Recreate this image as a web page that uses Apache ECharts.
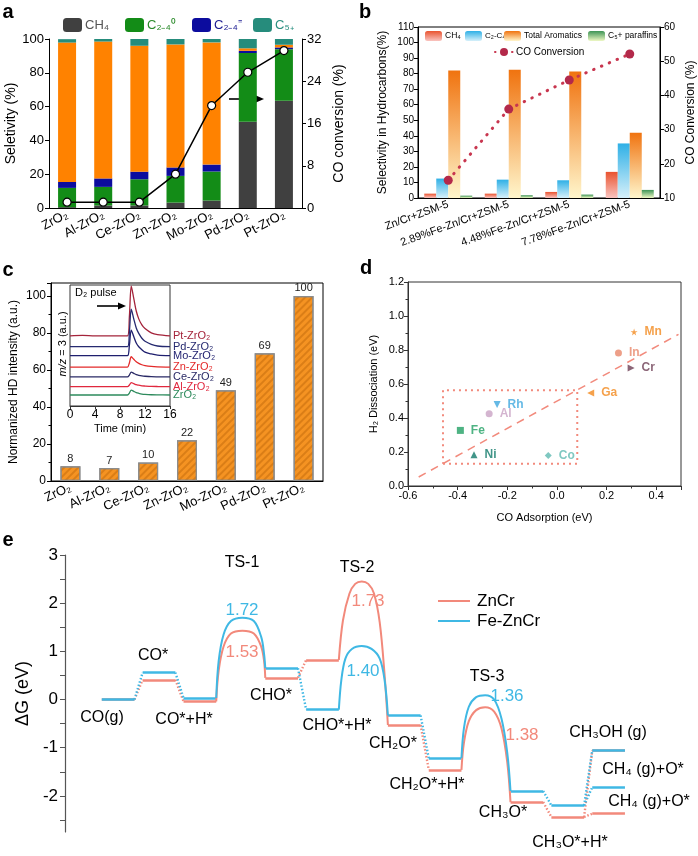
<!DOCTYPE html>
<html><head><meta charset="utf-8">
<script src="https://cdn.jsdelivr.net/npm/echarts@6/dist/echarts.min.js"></script>
<style>html,body{margin:0;padding:0;background:#fff}#c{width:698px;height:856px}</style>
</head><body><div id="c"></div><script>
// ---------- Panel a ----------
const catsA = ['ZrO₂','Al-ZrO₂','Ce-ZrO₂','Zn-ZrO₂','Mo-ZrO₂','Pd-ZrO₂','Pt-ZrO₂'];
const aCH4 = [0.5,1.5,1.5,3.2,4.4,51,63.4];
const aC24sat = [11.4,11,15.5,15.8,17.2,40.7,30.6];
const aC24ole = [3.5,5,4.5,5,4.1,1.3,1];
const aArom = [82.5,81,74.5,72.8,72.3,1.5,1.6];
const aC5 = [2,1.5,4,3.2,2,5.5,3.4];
const aConv = [1.1,1.1,1.1,6.4,19.4,25.7,29.8];
// ---------- Panel b ----------
const catsB = ['Zn/Cr+ZSM-5','2.89%Fe-Zn/Cr+ZSM-5','4.48%Fe-Zn/Cr+ZSM-5','7.78%Fe-Zn/Cr+ZSM-5'];
const bCH4 = [2.8,2.8,3.9,16.8];
const bC2C4 = [12.5,11.8,11.4,35.1];
const bArom = [82,82.5,81.4,42];
const bC5 = [1.5,1.8,2.2,5.2];
const bConv = [15.2,36,44.5,52.1];
// ---------- Panel c ----------
const cHD = [8,7,10,22,49,69,100];
const insetTime = [0,2,4,6,8,9.2,9.5,9.8,10.2,10.6,11,11.5,12,13,14,16];
const insetNames = ['Pt-ZrO₂','Pd-ZrO₂','Mo-ZrO₂','Zn-ZrO₂','Ce-ZrO₂','Al-ZrO₂','ZrO₂'];
const insetPt = [58,58.3,58,58,58,58,74,99,89,78.5,72,67,64,60.5,59,58];
const insetPd = [49,49,49,49,49,49,61,80,72,64.5,60,56,53.5,51,49.6,49];
const insetMo = [41.6,41.6,41.6,41.6,41.6,41.6,50,62.6,57.4,52,49,46.5,44.5,43,42,41.6];
const insetZn = [32.2,32.2,32.2,32.2,32.2,32.2,35.6,40.7,38.6,36.5,35.2,34.1,33.4,32.7,32.4,32.2];
const insetCe = [24,24,24,24,24,24,25.6,28,27,26,25.4,24.9,24.6,24.2,24.1,24];
const insetAl = [16,16,16,16,16,16,17.3,19.3,18.5,17.6,17.2,16.7,16.5,16.2,16.1,16];
const insetZr = [9.1,9.1,9.1,9.1,9.1,9.1,10.7,13.1,12.1,11.1,10.5,9.9,9.6,9.3,9.2,9.1];
// ---------- Panel d ----------
const dNames = ['Mn','In','Cr','Ga','Rh','Al','Fe','Ni','Co'];
const dCOads = [0.311,0.248,0.299,0.136,-0.241,-0.273,-0.389,-0.334,-0.035];
const dH2dis = [0.906,0.782,0.694,0.547,0.48,0.425,0.327,0.184,0.18];
const dFitLine = [[-0.557,0.053],[0.49,0.892]];
const dBox = [[-0.459,0.131],[0.082,0.131],[0.082,0.563],[-0.459,0.563],[-0.459,0.131]];
// ---------- Panel e ----------
const eStates = ['CO(g)','CO*','CO*+H*','CHO*','CHO*+H*','CH₂O*','CH₂O*+H*','CH₃O*','CH₃O*+H*'];
const eStatePos = [0,5,10,20,25,35,40,50,55];
const eFinalPos = 60;
const ePlateau = 4;
const eZnCr = [0,0.41,-0.04,0.45,0.82,-0.53,-1.46,-2.13,-2.44];
const eFe = [0,0.56,0.03,0.65,-0.21,-0.33,-1.22,-1.90,-2.20];
const eZnCrFinal = [-1.06,-2.37];
const eFeFinal = [-1.06,-1.82];
const eZnCrTS = [
  [[14,-0.04],[14.3,0.6],[14.9,1.1],[15.8,1.37],[17.2,1.43],[18.6,1.37],[19.5,1.1],[19.85,0.8],[20,0.45]],
  [[29,0.82],[29.5,1.64],[30.3,2.2],[31.0,2.4],[31.8,2.45],[32.6,2.4],[33.3,2.2],[34.0,1.6],[34.6,0.5],[35,-0.53]],
  [[44,-1.46],[44.3,-0.9],[44.9,-0.45],[45.8,-0.22],[46.9,-0.16],[48.0,-0.25],[48.9,-0.6],[49.6,-1.3],[50,-2.13]]
];
const eFeTS = [
  [[14,0.03],[14.3,0.8],[14.9,1.35],[15.8,1.63],[17.2,1.70],[18.6,1.63],[19.5,1.3],[19.85,0.95],[20,0.65]],
  [[29,-0.21],[29.3,0.4],[29.8,0.85],[30.6,1.05],[31.8,1.11],[33.0,1.05],[34.0,0.85],[34.6,0.4],[35,-0.33]],
  [[44,-1.22],[44.3,-0.6],[44.9,-0.15],[45.8,0.05],[46.9,0.09],[48.0,0.0],[48.9,-0.4],[49.6,-1.1],[50,-1.90]]
];
const eLinks = [[0,1],[1,2],[3,4],[5,6],[7,8]];

// ---------- build ----------
const F = '"Liberation Sans", Arial, sans-serif';
const K = '#000';
const cZn = '#f2897b', cFe = '#3fb8e4';
const axLine = {show:true, lineStyle:{color:K, width:1}};

function grad(top, bottom){return {type:'linear',x:0,y:0,x2:0,y2:1,colorStops:[{offset:0,color:top},{offset:1,color:bottom}]};}

function plateaus(levels, finals){
  const s = levels.map((e,i)=>({coords:[[eStatePos[i],e],[eStatePos[i]+ePlateau,e]]}));
  finals.forEach(e=>s.push({coords:[[eFinalPos,e],[eFinalPos+ePlateau,e]]}));
  return s;
}
function links(levels, finals){
  const s = eLinks.map(([a,b])=>({coords:[[eStatePos[a]+ePlateau,levels[a]],[eStatePos[b],levels[b]]]}));
  const last = levels.length-1;
  finals.forEach(e=>s.push({coords:[[eStatePos[last]+ePlateau,levels[last]],[eFinalPos,e]]}));
  return s;
}

const series = [];
// panel a
[['CH₄',aCH4,'#404040'],['C₂₋₄⁰',aC24sat,'#138c17'],['C₂₋₄⁼',aC24ole,'#0c0c9e'],['Aromatics',aArom,'#ff8200'],['C₅₊',aC5,'#268c7c']].forEach(([n,d,c])=>{
  series.push({name:n,type:'bar',xAxisIndex:0,yAxisIndex:0,stack:'a',data:d,barWidth:18,itemStyle:{color:c},silent:true});
});
series.push({name:'convA',type:'line',xAxisIndex:0,yAxisIndex:1,data:aConv,symbol:'circle',symbolSize:8,
  lineStyle:{color:K,width:1.5},itemStyle:{color:'#fff',borderColor:K,borderWidth:1.2},z:5});
// panel b
[['CH₄ ',bCH4,grad('#e9532f','#f9c4c0')],['C₂-C₄',bC2C4,grad('#2fb0e6','#d6f0fa')],['Total Aromatics',bArom,grad('#f0730f','#fff6cc')],['C₅+ paraffins',bC5,grad('#3d9456','#eef8c4')]].forEach(([n,d,c])=>{
  series.push({name:n,type:'bar',xAxisIndex:1,yAxisIndex:2,data:d,barWidth:12,barGap:'0%',itemStyle:{color:c},silent:true});
});
series.push({name:'CO Conversion',type:'line',xAxisIndex:1,yAxisIndex:3,data:bConv,symbol:'circle',symbolSize:9,
  lineStyle:{color:'#c8364f',width:3,type:[0.5,8],cap:'round'},itemStyle:{color:'#b3294a'},z:5});
// panel c
series.push({name:'HD',type:'bar',xAxisIndex:2,yAxisIndex:4,data:cHD,barWidth:20,
  itemStyle:{color:'#f59322',borderColor:'#8c8c8c',borderWidth:1.2,
    decal:{symbol:'rect',symbolSize:1,dashArrayX:[1,0],dashArrayY:[1.5,2.5],rotation:-Math.PI/4,color:'rgba(170,85,0,0.35)'}},
  label:{show:true,position:'top',distance:2,fontSize:11,color:'#222',fontFamily:F},silent:true});
const insetSets=[insetPt,insetPd,insetMo,insetZn,insetCe,insetAl,insetZr];
const insetColors=['#a4243b','#262a70','#1f1f6e','#e32a2a','#2a2a66','#e0283e','#2d8a5c'];
insetSets.forEach((d,i)=>{
  series.push({name:insetNames[i],type:'line',xAxisIndex:3,yAxisIndex:5,data:insetTime.map((t,j)=>[t,d[j]]),
    showSymbol:false,smooth:0.3,lineStyle:{color:insetColors[i],width:1.3},
    endLabel:{show:true,formatter:insetNames[i],color:insetColors[i],fontSize:11,fontFamily:F,distance:3},silent:true});
});
// panel d
const dColors=['#f28a1e','#e8876a','#6e3e55','#f28a1e','#3fa8de','#c9a3c4','#22a064','#117a6a','#5fbab2'];
const dSym=['path://M50,0 L61,35 L98,35 L68,57 L79,91 L50,70 L21,91 L32,57 L2,35 L39,35 Z','circle','triangle','triangle','triangle','circle','rect','triangle','diamond'];
const dRot=[0,0,-90,90,180,0,0,0,0];
series.push({name:'d',type:'line',xAxisIndex:4,yAxisIndex:6,data:dFitLine,showSymbol:false,lineStyle:{color:'#f28a7c',width:1.5,type:[8,6]},silent:true});
series.push({name:'dbox',type:'line',xAxisIndex:4,yAxisIndex:6,data:dBox,showSymbol:false,lineStyle:{color:'#f28a7c',width:2,type:[2,4]},silent:true});
series.push({name:'dpts',type:'scatter',xAxisIndex:4,yAxisIndex:6,symbolSize:7,z:5,
  data:dNames.map((n,i)=>({value:[dCOads[i],dH2dis[i]],symbol:dSym[i],symbolRotate:dRot[i],
    itemStyle:{color:dColors[i]},label:{show:true,position:'right',distance:7,formatter:n,color:dColors[i],fontWeight:'bold',fontSize:12,fontFamily:F}})),silent:true});
// panel e
[[eZnCr,eZnCrFinal,eZnCrTS,cZn],[eFe,eFeFinal,eFeTS,cFe]].forEach(([lv,fin,ts,c])=>{
  series.push({type:'lines',coordinateSystem:'cartesian2d',xAxisIndex:5,yAxisIndex:7,data:plateaus(lv,fin),lineStyle:{color:c,width:2.6,opacity:1},silent:true});
  series.push({type:'lines',coordinateSystem:'cartesian2d',xAxisIndex:5,yAxisIndex:7,data:links(lv,fin),lineStyle:{color:c,width:2.4,opacity:1,type:[1.5,2]},silent:true});
  ts.forEach(arc=>series.push({type:'line',xAxisIndex:5,yAxisIndex:7,data:arc,showSymbol:false,smooth:0.35,lineStyle:{color:c,width:2},silent:true}));
});

function txt(text,x,y,size,color,extra){
  return Object.assign({type:'text',x:x,y:y,silent:true,style:Object.assign({text:text,fontSize:size,fontFamily:F,fill:color||K,align:'center',verticalAlign:'middle',textAlign:'center',textVerticalAlign:'middle'},(extra&&extra.style)||{})},extra&&extra.rotation!==undefined?{rotation:extra.rotation}:{});
}
function arrow(x1,x2,y){
  return {type:'group',silent:true,children:[
    {type:'line',shape:{x1:x1,y1:y,x2:x2-6,y2:y},style:{stroke:K,lineWidth:1.6}},
    {type:'polygon',shape:{points:[[x2,y],[x2-8,y-3.5],[x2-8,y+3.5]]},style:{fill:K}}]};
}

const graphic = [
  txt('a',8,12,20,K,{style:{fontWeight:'bold'}}),
  txt('b',365,12,20,K,{style:{fontWeight:'bold'}}),
  txt('c',8,270,20,K,{style:{fontWeight:'bold'}}),
  txt('d',366,268,20,K,{style:{fontWeight:'bold'}}),
  txt('e',8,540,20,K,{style:{fontWeight:'bold'}}),
  txt('Aromatics',74,120,14,'#fff',{rotation:Math.PI/2}),
  arrow(229,264,99),
  // inset
  txt('D₂ pulse',75,293,11,K,{style:{align:'left',textAlign:'left'}}),
  arrow(97,126,306),
  {type:'text',x:63,y:344,rotation:Math.PI/2,silent:true,style:{text:'{i|m/z} = 3 (a.u.)',fontSize:11,fontFamily:F,fill:K,align:'center',verticalAlign:'middle',textAlign:'center',textVerticalAlign:'middle',rich:{i:{fontStyle:'italic',fontSize:11,fontFamily:F}}}},
  // panel e annotations
  txt('TS-1',242,563,16), txt('TS-2',357,568,16), txt('TS-3',487,677,16),
  txt('1.72',242,610,17,cFe), txt('1.53',242,652,17,cZn), txt('1.73',368,601,17,cZn),
  txt('1.40',363,671,17,cFe), txt('1.36',507,696,17,cFe), txt('1.38',522,735,17,cZn),
  txt('CO(g)',102,718,16), txt('CO*',153,656,16), txt('CO*+H*',184,720,16), txt('CHO*',271,696,16),
  txt('CHO*+H*',337,726,16), txt('CH₂O*',393,744,16), txt('CH₂O*+H*',427,785,16), txt('CH₃O*',503,813,16),
  txt('CH₃O*+H*',570,843,16), txt('CH₃OH (g)',608,733,16), txt('CH₄ (g)+O*',643,770,16), txt('CH₄ (g)+O*',649,802,16),
  {type:'line',shape:{x1:438,y1:601,x2:470,y2:601},style:{stroke:cZn,lineWidth:2},silent:true},
  {type:'line',shape:{x1:438,y1:621,x2:470,y2:621},style:{stroke:cFe,lineWidth:2},silent:true},
  txt('ZnCr',477,601,17,K,{style:{align:'left',textAlign:'left'}}),
  txt('Fe-ZnCr',477,621,17,K,{style:{align:'left',textAlign:'left'}})
];

function leg(name,left,top,color,size,w,h){
  return {data:[name],left:left,top:top,padding:0,itemWidth:w,itemHeight:h,itemGap:0,selectedMode:false,
    textStyle:{color:color,fontSize:size,fontFamily:F,padding:[0,0,0,-2]}};
}

const option = {
  animation:false,
  backgroundColor:'#fff',
  textStyle:{fontFamily:F},
  grid:[
    {left:49,top:39,width:253,height:169},
    {left:418,top:27,width:242,height:171,show:true,borderColor:K,borderWidth:1,backgroundColor:'transparent'},
    {left:51,top:283,width:272,height:198,show:true,borderColor:K,borderWidth:1,backgroundColor:'transparent'},
    {left:70,top:285,width:100,height:121,show:true,borderColor:'#333',borderWidth:1,backgroundColor:'#fff'},
    {left:408,top:282,width:273,height:204,show:true,borderColor:'#333',borderWidth:1,backgroundColor:'transparent'},
    {left:65,top:555,width:609,height:277}
  ],
  xAxis:[
    {type:'category',gridIndex:0,data:catsA,axisLine:axLine,axisTick:{alignWithLabel:true,length:4,lineStyle:{color:K}},
      axisLabel:{rotate:28,fontSize:13,color:K,margin:6,interval:0}},
    {type:'category',gridIndex:1,data:catsB,axisLine:axLine,axisTick:{alignWithLabel:true,length:4,lineStyle:{color:K}},
      axisLabel:{rotate:20,fontSize:11,color:K,margin:6,interval:0}},
    {type:'category',gridIndex:2,data:catsA,axisLine:axLine,axisTick:{alignWithLabel:true,length:4,lineStyle:{color:K}},
      axisLabel:{rotate:25,fontSize:13,color:K,margin:6,interval:0}},
    {type:'value',gridIndex:3,min:0,max:16,interval:4,axisLine:{show:true,lineStyle:{color:'#333'}},axisTick:{length:3,lineStyle:{color:'#333'}},
      axisLabel:{fontSize:12,color:K,margin:3},splitLine:{show:false},
      name:'Time (min)',nameLocation:'middle',nameGap:17,nameTextStyle:{fontSize:11,color:K}},
    {type:'value',gridIndex:4,min:-0.6,max:0.5,interval:0.2,axisLine:{show:true,onZero:false,lineStyle:{color:'#333'}},
      axisTick:{length:4,lineStyle:{color:'#333'}},minorTick:{show:true,splitNumber:2,length:2.5,lineStyle:{color:'#333'}},
      axisLabel:{fontSize:11,color:K,margin:4,showMaxLabel:false,formatter:v=>v.toFixed(1)},splitLine:{show:false},
      name:'CO Adsorption (eV)',nameLocation:'middle',nameGap:26,nameTextStyle:{fontSize:11,color:K}},
    {type:'value',gridIndex:5,min:-4.5,max:70,show:false}
  ],
  yAxis:[
    {type:'value',gridIndex:0,min:0,max:100,interval:20,axisLine:axLine,axisTick:{show:true,length:4,lineStyle:{color:K}},
      axisLabel:{fontSize:13,color:K,margin:5},splitLine:{show:false},
      name:'Seletivity (%)',nameLocation:'middle',nameGap:31,nameTextStyle:{fontSize:14,color:K}},
    {type:'value',gridIndex:0,position:'right',min:0,max:32,interval:8,axisLine:axLine,axisTick:{show:true,length:4,lineStyle:{color:K}},
      axisLabel:{fontSize:13,color:K,margin:5},splitLine:{show:false},
      name:'CO conversion (%)',nameLocation:'middle',nameGap:30,nameRotate:90,nameTextStyle:{fontSize:14,color:K}},
    {type:'value',gridIndex:1,min:0,max:110,interval:10,axisLine:axLine,axisTick:{show:true,length:4,lineStyle:{color:K}},
      axisLabel:{fontSize:10,color:K,margin:4},splitLine:{show:false},
      name:'Selectivity in Hydrocarbons(%)',nameLocation:'middle',nameGap:29,nameTextStyle:{fontSize:12,color:K}},
    {type:'value',gridIndex:1,position:'right',min:10,max:60,interval:10,axisLine:axLine,axisTick:{show:true,length:4,lineStyle:{color:K}},
      axisLabel:{fontSize:10,color:K,margin:4},splitLine:{show:false},
      name:'CO Conversion (%)',nameLocation:'middle',nameGap:25,nameRotate:90,nameTextStyle:{fontSize:12,color:K}},
    {type:'value',gridIndex:2,min:0,max:107,interval:20,axisLine:axLine,axisTick:{show:true,length:4,lineStyle:{color:K}},
      minorTick:{show:true,splitNumber:2,length:2.5,lineStyle:{color:K}},
      axisLabel:{fontSize:12,color:K,margin:5,showMaxLabel:false},splitLine:{show:false},
      name:'Normanized HD intensity (a.u.)',nameLocation:'middle',nameGap:31,nameTextStyle:{fontSize:12,color:K}},
    {type:'value',gridIndex:3,min:0,max:100,show:false},
    {type:'value',gridIndex:4,min:0,max:1.2,interval:0.2,axisLine:{show:true,onZero:false,lineStyle:{color:'#333'}},
      axisTick:{length:4,lineStyle:{color:'#333'}},minorTick:{show:true,splitNumber:2,length:2.5,lineStyle:{color:'#333'}},
      axisLabel:{fontSize:11,color:K,margin:4,formatter:v=>v.toFixed(1)},splitLine:{show:false},
      name:'H₂ Dissociation (eV)',nameLocation:'middle',nameGap:29,nameTextStyle:{fontSize:11,color:K}},
    {type:'value',gridIndex:5,min:-2.75,max:3,axisLine:{show:true,onZero:false,lineStyle:{color:'#555',width:1.2}},
      axisTick:{show:true,length:5,lineStyle:{color:'#555'},customValues:[-2.5,-2,-1.5,-1,-0.5,0,0.5,1,1.5,2,2.5,3]},
      axisLabel:{fontSize:17,color:K,margin:7,customValues:[-2,-1,0,1,2,3]},splitLine:{show:false},
      name:'ΔG (eV)',nameLocation:'middle',nameGap:32,nameTextStyle:{fontSize:18,color:K}}
  ],
  legend:[
    leg('CH₄',63,18,'#555',13,19,14),
    leg('C₂₋₄⁰',125,18,'#2a8a2a',13,19,14),
    leg('C₂₋₄⁼',192,18,'#1a1a90',13,19,14),
    leg('C₅₊',253,18,'#2a9080',13,19,14),
    leg('CH₄ ',425,31,K,8.5,17,10),
    leg('C₂-C₄',465,31,K,8,17,10),
    leg('Total Aromatics',504,31,K,8.5,17,10),
    leg('C₅+ paraffins',588,31,K,8.5,17,10),
    leg('CO Conversion',494,47,K,10,18,10)
  ],
  graphic:graphic,
  series:series
};
const chart = echarts.init(document.getElementById('c'));
chart.setOption(option);
</script></body></html>
